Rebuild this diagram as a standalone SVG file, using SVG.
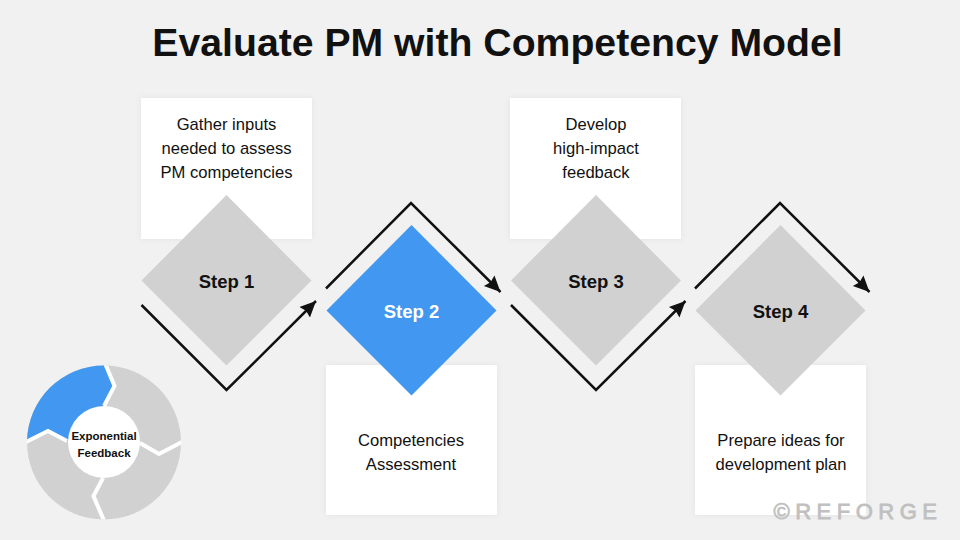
<svg xmlns="http://www.w3.org/2000/svg" width="960" height="540" viewBox="0 0 960 540">
<style>
text{font-family:"Liberation Sans",Arial,sans-serif;text-anchor:middle;fill:#111}
.box{fill:#fff;filter:url(#sh)}
.d{fill:#d1d1d1}
.blue{fill:#4298f0}
.body{font-size:16.600px}
.step{font-size:18.500px;font-weight:700}
.con{fill:none;stroke:#111;stroke-width:2.500;marker-end:url(#ah)}
.gap{fill:none;stroke:#fff;stroke-width:4}
.cyc{font-size:11.500px;font-weight:700}
</style>
<defs>
<filter id="sh" x="-10%" y="-10%" width="120%" height="120%"><feDropShadow dx="0" dy="0" stdDeviation="3" flood-color="#000" flood-opacity="0.06"/></filter>
<marker id="ah" markerUnits="userSpaceOnUse" markerWidth="20" markerHeight="18" refX="16" refY="8.500" orient="auto"><path d="M0 1L16 8.500L0 16L2 8.500Z" fill="#111"/></marker>
<clipPath id="disc"><circle cx="104" cy="442.500" r="77"/></clipPath>
</defs>
<rect width="960" height="540" fill="#f1f1f1"/>
<text id="title" x="497.500" y="56" font-size="39.200" font-weight="700">Evaluate PM with Competency Model</text>
<g id="step1-note"><rect class="box" x="141" y="98" width="171" height="141"/><text class="body" x="226.500" y="129.500">Gather inputs</text><text class="body" x="226.500" y="153.500">needed to assess</text><text class="body" x="226.500" y="177.500">PM competencies</text></g>
<g id="step3-note"><rect class="box" x="510" y="98" width="171" height="141"/><text class="body" x="596" y="129.500">Develop</text><text class="body" x="596" y="153.500">high-impact</text><text class="body" x="596" y="177.500">feedback</text></g>
<g id="step2-note"><rect class="box" x="326" y="365" width="171" height="150"/><text class="body" x="411" y="445.500">Competencies</text><text class="body" x="411" y="469.500">Assessment</text></g>
<g id="step4-note"><rect class="box" x="695" y="365" width="171" height="150"/><text class="body" x="781" y="445.500">Prepare ideas for</text><text class="body" x="781" y="469.500">development plan</text></g>
<g id="step1"><path class="d" d="M226.500 195L311.500 280.500L226.500 365.500L141.500 280.500Z"/><text class="step" x="226.500" y="287.500">Step 1</text></g>
<g id="step2"><path class="blue" d="M411.500 225L496.500 310.500L411.500 395.500L326.500 310.500Z"/><text class="step" x="411.500" y="317.500" style="fill:#fff">Step 2</text></g>
<g id="step3"><path class="d" d="M596 195L681 280.500L596 365.500L511 280.500Z"/><text class="step" x="596" y="287.500">Step 3</text></g>
<g id="step4"><path class="d" d="M780.500 225L865.500 310.500L780.500 395.500L695.500 310.500Z"/><text class="step" x="780.500" y="317.500">Step 4</text></g>
<g id="connectors">
<path class="con" d="M141.500 305L226.500 390L316 301"/>
<path class="con" d="M326 288.500L411 203L500.500 292"/>
<path class="con" d="M511 305L596 390L685.500 301"/>
<path class="con" d="M695 288.500L780 203L869.500 292"/>
</g>
<g id="cycle">
<circle cx="104" cy="442.500" r="77" fill="#d1d1d1"/>
<path class="blue" d="M104 365.500L114 386L104 406L67 441L48 431L27 441A77 77 0 0 1 104 365.500Z"/>
<g clip-path="url(#disc)">
<path class="gap" d="M104.500 362L114.500 386L104 406"/>
<path class="gap" d="M140 443L159 454L184 441"/>
<path class="gap" d="M103 478L93.500 496L105 523"/>
<path class="gap" d="M67 441L48 431L24 443"/>
</g>
<circle cx="104" cy="442" r="36" fill="#fff"/>
<text class="cyc" x="104" y="440">Exponential</text>
<text class="cyc" x="104" y="457">Feedback</text>
</g>
<text id="watermark" x="858" y="519" font-size="22" letter-spacing="5.500" style="fill:#c0c0c0;font-weight:400;stroke:#c0c0c0;stroke-width:0.800">©REFORGE</text>
</svg>
